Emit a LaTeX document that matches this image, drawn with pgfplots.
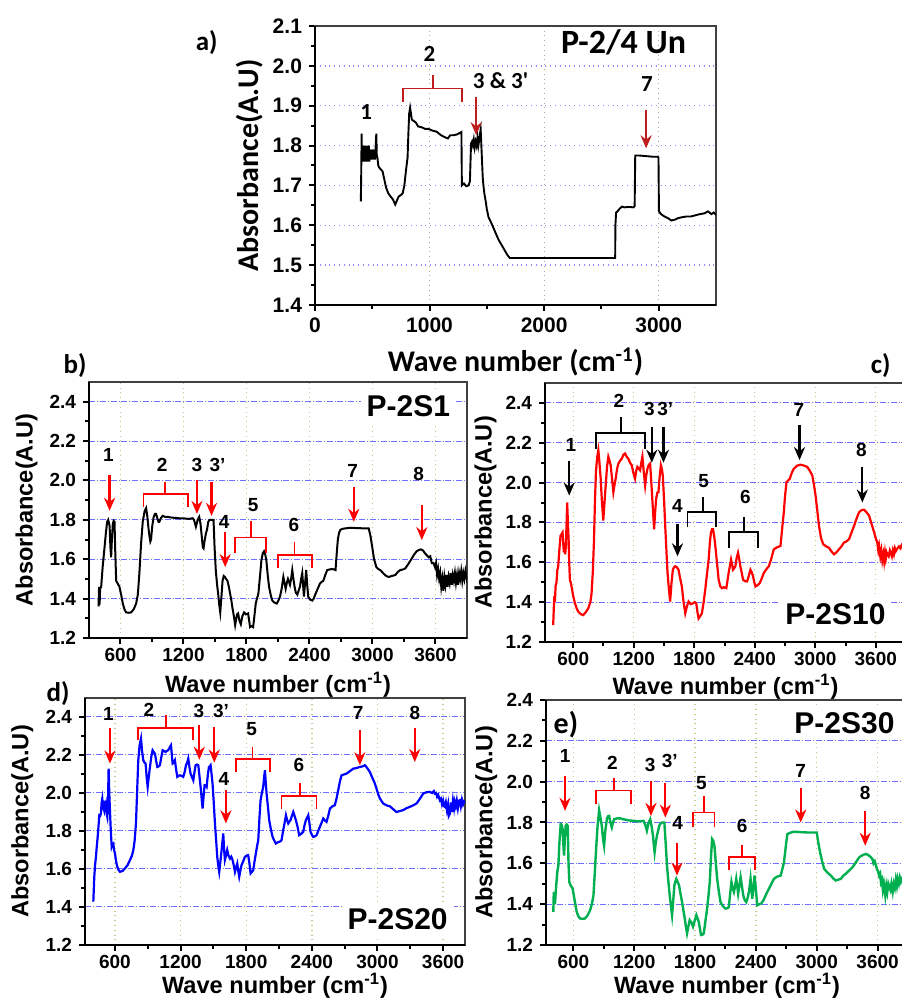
\documentclass[border=0pt]{standalone}
\usepackage{fontspec}
\setmainfont{Liberation Sans}
\newfontfamily\calib{Carlito}
\usepackage{pgfplots}
\pgfplotsset{compat=1.18}
\usetikzlibrary{arrows.meta}
\definecolor{annred}{RGB}{255,0,0}
\definecolor{darkann}{RGB}{190,30,30}
\definecolor{gridblue}{RGB}{110,110,255}
\definecolor{gridolive}{RGB}{200,200,140}
\definecolor{cgreen}{RGB}{0,176,80}
\newcommand{\lblfont}{\bfseries\fontsize{11.8}{13}\selectfont}
\newcommand{\albfont}{\calib\bfseries\fontsize{15}{17}\selectfont}
\pgfplotsset{
  base/.style={
    scale only axis, clip mode=individual,
    axis line style={line width=0.6pt, black!75},
    tick align=outside, xtick pos=left, ytick pos=left,
    major tick length=3pt, minor tick length=1.8pt,
    tick style={black, line width=1pt},
    grid=major,
    /pgf/number format/assume math mode=true,
    /pgf/number format/set thousands separator={},
    y tick label style={/pgf/number format/.cd, fixed, fixed zerofill, precision=1},
    tick label style={font=\bfseries\fontsize{9.5}{11}\selectfont},
    every axis y label/.style={at={(axis description cs:-0.165,0.5)}, rotate=90, anchor=center, font=\lblfont},
    every axis x label/.style={at={(axis description cs:0.5,-0.17)}, anchor=center, font=\lblfont},
    xlabel={Wave number (cm\textsuperscript{-1})},
    ylabel={Absorbance(A.U)},
  },
  lower/.style={base, xmin=300, xmax=3900, ymin=1.2, ymax=2.5,
    xtick={600,1200,1800,2400,3000,3600}, ytick={1.2,1.4,1.6,1.8,2.0,2.2,2.4},
    minor x tick num=1, minor y tick num=1,
    x tick label style={yshift=1.5pt},
    x grid style={dotted, gridolive, line width=0.7pt},
    y grid style={densely dash dot, gridblue, line width=0.5pt}},
}
\tikzset{
  arr/.style={line width=1.1pt, -{Stealth[length=6.5pt,width=5.5pt]}},
  brk/.style={line width=0.9pt},
  num/.style={font=\bfseries\fontsize{9.5}{10}\selectfont, text=black},
  plab/.style={font=\bfseries\fontsize{15}{16}\selectfont, anchor=east, fill=white, inner sep=3pt, text=black},
  let/.style={font=\calib\bfseries\fontsize{13.5}{14}\selectfont},
}
\newcommand{\thickaxes}{\draw[line width=1.4pt, black] (rel axis cs:0,1) -- (rel axis cs:0,0) -- (rel axis cs:1,0);}
\begin{document}
\begin{tikzpicture}
\useasboundingbox (0,0) rectangle (450.5pt,500.5pt);
% ---------------- panel a
\begin{axis}[base, at={(157.5pt,348pt)}, anchor=south west, width=200.5pt, height=139.5pt,
  xmin=0, xmax=3500, ymin=1.4, ymax=2.1,
  xtick={0,1000,2000,3000}, ytick={1.4,1.5,1.6,1.7,1.8,1.9,2.0,2.1},
  minor x tick num=1, minor y tick num=1,
  x grid style={dotted, gray!70, line width=0.6pt},
  y grid style={dotted, blue!45, line width=0.7pt},
  tick label style={font=\bfseries\fontsize{10.5}{12}\selectfont},
  every axis y label/.style={at={(axis description cs:-0.162,0.5)}, rotate=90, anchor=center, font=\albfont},
  every axis x label/.style={at={(axis description cs:0.5,-0.205)}, anchor=center, font=\albfont},
]
\addplot[black, line width=0.95pt] coordinates {
(400,1.66)(403,1.72)(407,1.83)(410,1.76)(414,1.79)(418,1.77)(422,1.80)(426,1.76)(430,1.79)(434,1.77)(438,1.80)(442,1.76)(446,1.79)(450,1.77)(454,1.80)(458,1.76)(462,1.79)(466,1.77)(470,1.80)(474,1.76)(478,1.79)(482,1.77)(486,1.79)(490,1.765)(494,1.79)(498,1.77)(502,1.79)(506,1.765)(510,1.785)(514,1.77)(518,1.79)(522,1.765)(526,1.78)(530,1.80)(535,1.83)(540,1.77)(545,1.77)(552,1.75)(560,1.745)(575,1.74)(590,1.735)(605,1.715)(620,1.695)(640,1.68)(660,1.672)(680,1.665)(700,1.652)(715,1.662)(730,1.672)(750,1.676)(765,1.68)(780,1.70)(795,1.74)(808,1.77)(815,1.83)(822,1.88)(830,1.895)(838,1.88)(845,1.865)(860,1.862)(880,1.858)(900,1.848)(930,1.846)(960,1.842)(990,1.842)(1020,1.838)(1060,1.835)(1100,1.826)(1140,1.82)(1160,1.818)(1180,1.826)(1210,1.826)(1240,1.828)(1265,1.832)(1278,1.834)(1282,1.70)(1300,1.705)(1320,1.698)(1340,1.70)(1352,1.71)(1362,1.805)(1370,1.81)(1378,1.80)(1386,1.815)(1394,1.795)(1402,1.81)(1410,1.80)(1418,1.82)(1426,1.80)(1434,1.815)(1440,1.83)(1446,1.84)(1452,1.80)(1458,1.76)(1464,1.72)(1470,1.70)(1478,1.68)(1490,1.66)(1500,1.64)(1515,1.62)(1540,1.605)(1570,1.585)(1600,1.565)(1640,1.545)(1680,1.525)(1700,1.518)(2620,1.518)(2622,1.60)(2628,1.632)(2640,1.635)(2660,1.642)(2680,1.647)(2700,1.645)(2740,1.646)(2780,1.645)(2790,1.648)(2795,1.775)(2830,1.775)(2870,1.774)(2910,1.773)(2950,1.772)(2990,1.772)(2998,1.77)(3002,1.635)(3020,1.628)(3050,1.622)(3080,1.618)(3110,1.612)(3140,1.614)(3170,1.618)(3200,1.620)(3240,1.622)(3280,1.622)(3320,1.625)(3360,1.628)(3400,1.63)(3430,1.635)(3460,1.628)(3480,1.632)(3500,1.626)
};
\thickaxes
\node[font=\calib\bfseries\fontsize{11.5}{12}\selectfont] at (axis cs:446,1.884) {1};
\node[font=\calib\bfseries\fontsize{11.5}{12}\selectfont] at (axis cs:999,2.03) {2};
\node[font=\calib\bfseries\fontsize{11.5}{12}\selectfont] at (axis cs:1620,1.964) {3 \& 3'};
\node[font=\calib\bfseries\fontsize{11.5}{12}\selectfont] at (axis cs:2898,1.955) {7};
\draw[darkann, line width=0.8pt] (axis cs:766,1.91) |- (axis cs:1282,1.943) -- (axis cs:1282,1.91);
\draw[darkann, line width=0.8pt] (axis cs:1028,1.943) -- (axis cs:1028,1.976);
\draw[darkann, arr] (axis cs:1407,1.922) -- (axis cs:1407,1.826);
\draw[darkann, arr] (axis cs:2890,1.889) -- (axis cs:2890,1.793);
\node[font=\calib\bfseries\fontsize{17}{18}\selectfont, anchor=east] at (axis cs:3300,2.06) {P-2/4 Un};
\node[font=\calib\bfseries\fontsize{13.5}{14}\selectfont] at (rel axis cs:-0.27,0.94) {a)};
\end{axis}
% ---------------- panel b
\begin{axis}[lower, at={(44.5pt,181.5pt)}, anchor=south west, width=189pt, height=128pt,
  every axis x label/.style={at={(axis description cs:0.5,-0.182)}, anchor=center, font=\lblfont}]
\addplot[black, line width=1pt] coordinates {
(391,1.36)(396,1.46)(401,1.37)(406,1.45)(416,1.46)(430,1.56)(448,1.66)(462,1.74)(473,1.79)(483,1.80)(496,1.77)(504,1.66)(511,1.61)(518,1.70)(527,1.78)(535,1.795)(543,1.79)(550,1.64)(559,1.49)(570,1.48)(590,1.46)(606,1.42)(622,1.375)(638,1.345)(654,1.33)(680,1.328)(701,1.33)(725,1.345)(749,1.375)(765,1.42)(780,1.53)(796,1.68)(812,1.79)(830,1.845)(844,1.86)(855,1.82)(866,1.76)(875,1.72)(884,1.69)(891,1.70)(903,1.77)(916,1.815)(928,1.83)(939,1.83)(950,1.81)(962,1.79)(970,1.79)(986,1.81)(1002,1.82)(1025,1.815)(1049,1.815)(1080,1.812)(1120,1.81)(1160,1.808)(1208,1.807)(1250,1.805)(1287,1.808)(1300,1.80)(1318,1.765)(1335,1.80)(1350,1.815)(1362,1.78)(1375,1.71)(1384,1.66)(1391,1.655)(1400,1.69)(1413,1.73)(1424,1.75)(1436,1.79)(1448,1.80)(1461,1.80)(1475,1.80)(1486,1.80)(1496,1.66)(1508,1.54)(1520,1.47)(1530,1.425)(1540,1.37)(1550,1.33)(1560,1.40)(1572,1.49)(1583,1.515)(1594,1.51)(1606,1.50)(1619,1.49)(1632,1.46)(1644,1.425)(1656,1.39)(1667,1.35)(1680,1.31)(1692,1.265)(1700,1.29)(1710,1.32)(1720,1.325)(1732,1.29)(1746,1.27)(1760,1.31)(1777,1.33)(1795,1.32)(1815,1.325)(1825,1.29)(1834,1.255)(1848,1.26)(1863,1.255)(1875,1.31)(1888,1.375)(1900,1.40)(1913,1.425)(1928,1.51)(1942,1.595)(1955,1.63)(1967,1.64)(1978,1.625)(1989,1.595)(2002,1.52)(2015,1.46)(2030,1.42)(2046,1.39)(2065,1.38)(2088,1.375)(2104,1.39)(2119,1.41)(2135,1.45)(2151,1.51)(2162,1.48)(2173,1.45)(2184,1.48)(2195,1.50)(2205,1.485)(2214,1.47)(2225,1.50)(2236,1.545)(2247,1.50)(2258,1.46)(2270,1.43)(2284,1.42)(2296,1.44)(2309,1.46)(2320,1.50)(2331,1.53)(2339,1.47)(2347,1.41)(2358,1.48)(2369,1.545)(2378,1.47)(2388,1.41)(2405,1.395)(2426,1.39)(2440,1.40)(2458,1.425)(2478,1.45)(2499,1.476)(2515,1.485)(2531,1.49)(2550,1.52)(2569,1.545)(2590,1.548)(2616,1.55)(2635,1.548)(2648,1.545)(2658,1.62)(2670,1.70)(2682,1.735)(2695,1.75)(2720,1.755)(2760,1.758)(2790,1.76)(2850,1.758)(2910,1.757)(2964,1.757)(2980,1.72)(2996,1.667)(3015,1.60)(3037,1.56)(3055,1.55)(3075,1.545)(3100,1.53)(3130,1.515)(3154,1.51)(3185,1.515)(3218,1.52)(3240,1.535)(3265,1.545)(3290,1.548)(3312,1.553)(3340,1.575)(3370,1.60)(3392,1.62)(3420,1.64)(3445,1.648)(3461,1.65)(3480,1.645)(3500,1.63)(3518,1.62)(3535,1.61)(3550,1.615)(3565,1.58)(3581,1.58)(3595,1.56)(3605,1.58)(3615,1.52)(3625,1.55)(3635,1.50)(3645,1.53)(3655,1.46)(3665,1.50)(3675,1.44)(3685,1.51)(3695,1.47)(3705,1.52)(3715,1.46)(3725,1.51)(3735,1.48)(3745,1.53)(3755,1.47)(3765,1.52)(3775,1.49)(3785,1.53)(3795,1.48)(3805,1.52)(3815,1.47)(3825,1.53)(3835,1.50)(3845,1.54)(3855,1.49)(3865,1.53)(3875,1.50)(3885,1.54)(3895,1.51)(3900,1.53)
};
\thickaxes
\node[plab] at (axis cs:3800,2.378) {P-2S1};
\node[let] at (rel axis cs:-0.037,1.066) {b)};
\begin{scope}[annred]
\node[num] at (axis cs:486,2.13) {1};
\draw[arr] (axis cs:496,2.027) -- (axis cs:496,1.846);
\node[num] at (axis cs:996,2.08) {2};
\draw[brk] (axis cs:820,1.866) |- (axis cs:1240,1.93) -- (axis cs:1240,1.866);
\draw[brk] (axis cs:1027,1.93) -- (axis cs:1027,1.99);
\node[num] at (axis cs:1328,2.08) {3};
\draw[arr] (axis cs:1328,2.0) -- (axis cs:1328,1.83);
\node[num] at (axis cs:1524,2.08) {3'};
\draw[arr] (axis cs:1467,1.99) -- (axis cs:1467,1.82);
\node[num] at (axis cs:1587,1.79) {4};
\draw[arr] (axis cs:1597,1.74) -- (axis cs:1597,1.56);
\node[num] at (axis cs:1863,1.875) {5};
\draw[brk] (axis cs:1692,1.63) |- (axis cs:1989,1.71) -- (axis cs:1989,1.63);
\draw[brk] (axis cs:1841,1.71) -- (axis cs:1841,1.795);
\node[num] at (axis cs:2252,1.776) {6};
\draw[brk] (axis cs:2103,1.553) |- (axis cs:2426,1.62) -- (axis cs:2426,1.553);
\draw[brk] (axis cs:2258,1.62) -- (axis cs:2258,1.685);
\node[num] at (axis cs:2812,2.05) {7};
\draw[arr] (axis cs:2822,1.968) -- (axis cs:2822,1.79);
\node[num] at (axis cs:3439,2.035) {8};
\draw[arr] (axis cs:3470,1.875) -- (axis cs:3470,1.697);
\end{scope}
\end{axis}
% ---------------- panel c
\begin{axis}[lower, at={(272.5pt,179.5pt)}, anchor=south west, width=180.5pt, height=129.5pt,
  xmin=320, every axis x label/.style={at={(axis description cs:0.5,-0.172)}, anchor=center, font=\lblfont}]
\addplot[red, line width=1.1pt] coordinates {
(401,1.285)(408,1.38)(413,1.43)(418,1.40)(425,1.48)(434,1.50)(442,1.56)(451,1.58)(462,1.66)(474,1.733)(482,1.74)(494,1.75)(500,1.70)(507,1.65)(514,1.70)(520,1.64)(527,1.68)(534,1.80)(540,1.90)(547,1.80)(554,1.715)(560,1.60)(567,1.51)(575,1.50)(583,1.479)(600,1.43)(617,1.394)(633,1.37)(650,1.352)(675,1.34)(699,1.335)(725,1.35)(749,1.369)(770,1.40)(782,1.445)(795,1.56)(806,1.716)(815,1.90)(825,2.053)(838,2.13)(849,2.163)(860,2.10)(872,2.02)(885,1.90)(898,1.81)(910,1.90)(922,1.986)(935,2.08)(948,2.13)(960,2.11)(971,2.087)(985,2.02)(998,1.952)(1010,1.99)(1021,2.02)(1035,2.07)(1048,2.096)(1065,2.11)(1081,2.12)(1098,2.14)(1114,2.146)(1130,2.13)(1147,2.12)(1163,2.10)(1180,2.087)(1196,2.05)(1213,2.02)(1225,2.06)(1236,2.079)(1250,2.07)(1263,2.062)(1275,2.10)(1286,2.13)(1300,2.05)(1313,1.986)(1325,2.04)(1336,2.07)(1350,2.09)(1362,2.096)(1372,2.02)(1382,1.935)(1392,1.85)(1402,1.766)(1412,1.85)(1422,1.918)(1434,1.95)(1445,1.952)(1457,2.03)(1469,2.087)(1478,2.07)(1488,2.037)(1500,1.92)(1512,1.783)(1524,1.66)(1535,1.547)(1548,1.47)(1561,1.403)(1575,1.50)(1588,1.563)(1600,1.575)(1611,1.58)(1628,1.575)(1644,1.563)(1660,1.52)(1677,1.479)(1694,1.40)(1711,1.344)(1728,1.38)(1744,1.403)(1765,1.39)(1787,1.394)(1805,1.40)(1820,1.394)(1832,1.35)(1843,1.318)(1860,1.33)(1876,1.344)(1893,1.40)(1909,1.462)(1926,1.54)(1943,1.614)(1955,1.70)(1966,1.75)(1976,1.766)(1986,1.766)(1998,1.73)(2009,1.682)(2025,1.60)(2042,1.513)(2058,1.48)(2075,1.47)(2095,1.475)(2118,1.47)(2130,1.51)(2141,1.547)(2153,1.58)(2165,1.614)(2175,1.59)(2185,1.563)(2196,1.57)(2208,1.58)(2220,1.62)(2234,1.648)(2245,1.62)(2257,1.58)(2270,1.55)(2284,1.513)(2304,1.505)(2324,1.504)(2340,1.53)(2357,1.563)(2370,1.55)(2383,1.53)(2395,1.50)(2407,1.479)(2428,1.485)(2450,1.496)(2470,1.52)(2490,1.547)(2515,1.565)(2539,1.58)(2565,1.62)(2589,1.665)(2620,1.675)(2655,1.682)(2672,1.77)(2688,1.851)(2700,1.93)(2715,2.003)(2730,2.01)(2748,2.02)(2768,2.05)(2788,2.07)(2820,2.085)(2854,2.09)(2890,2.085)(2920,2.079)(2945,2.06)(2970,2.037)(2987,1.99)(3003,1.935)(3020,1.86)(3037,1.783)(3058,1.72)(3080,1.69)(3108,1.68)(3136,1.673)(3160,1.655)(3186,1.64)(3210,1.65)(3235,1.665)(3260,1.68)(3285,1.699)(3310,1.705)(3335,1.716)(3360,1.75)(3385,1.783)(3410,1.82)(3434,1.851)(3460,1.862)(3484,1.864)(3510,1.85)(3534,1.834)(3560,1.79)(3584,1.75)(3600,1.72)(3615,1.70)(3625,1.66)(3633,1.682)(3645,1.63)(3655,1.66)(3665,1.61)(3675,1.64)(3683,1.606)(3692,1.65)(3700,1.62)(3708,1.65)(3716,1.64)(3728,1.63)(3740,1.66)(3749,1.648)(3760,1.63)(3770,1.66)(3780,1.64)(3790,1.67)(3799,1.656)(3815,1.67)(3830,1.68)(3845,1.67)(3859,1.69)(3875,1.695)(3890,1.70)(3900,1.705)
};
\thickaxes
\node[plab] at (axis cs:3760,1.34) {P-2S10};
\node[let] at (rel axis cs:0.93,1.066) {c)};
\begin{scope}[black]
\node[num] at (axis cs:577,2.19) {1};
\draw[arr] (axis cs:560,2.11) -- (axis cs:560,1.935);
\node[num] at (axis cs:1054,2.41) {2};
\draw[brk] (axis cs:825,2.17) |- (axis cs:1313,2.25) -- (axis cs:1313,2.17);
\draw[brk] (axis cs:1071,2.25) -- (axis cs:1071,2.33);
\node[num] at (axis cs:1356,2.37) {3};
\draw[arr] (axis cs:1379,2.28) -- (axis cs:1379,2.10);
\node[num] at (axis cs:1512,2.37) {3'};
\draw[arr] (axis cs:1495,2.28) -- (axis cs:1495,2.10);
\node[num] at (axis cs:1634,1.885) {4};
\draw[arr] (axis cs:1634,1.79) -- (axis cs:1634,1.63);
\node[num] at (axis cs:1893,2.01) {5};
\draw[brk] (axis cs:1734,1.775) |- (axis cs:2019,1.854) -- (axis cs:2019,1.775);
\draw[brk] (axis cs:1883,1.854) -- (axis cs:1883,1.926);
\node[num] at (axis cs:2307,1.926) {6};
\draw[brk] (axis cs:2148,1.673) |- (axis cs:2433,1.754) -- (axis cs:2433,1.673);
\draw[brk] (axis cs:2291,1.754) -- (axis cs:2291,1.825);
\node[num] at (axis cs:2838,2.366) {7};
\draw[arr] (axis cs:2844,2.29) -- (axis cs:2844,2.113);
\node[num] at (axis cs:3457,2.163) {8};
\draw[arr] (axis cs:3467,2.08) -- (axis cs:3467,1.90);
\end{scope}
\end{axis}
% ---------------- panel d
\begin{axis}[lower, at={(42.5pt,28pt)}, anchor=south west, width=190pt, height=123.5pt,
  xmin=326, xmax=3800, every axis x label/.style={at={(axis description cs:0.5,-0.166)}, anchor=center, font=\lblfont}]
\addplot[blue, line width=1.1pt] coordinates {
(402,1.428)(407,1.50)(411,1.56)(418,1.62)(426,1.664)(434,1.72)(442,1.77)(450,1.83)(457,1.883)(465,1.88)(472,1.892)(478,1.95)(484,1.97)(490,1.93)(500,1.91)(506,1.96)(512,1.90)(518,1.927)(524,1.89)(530,1.874)(536,1.95)(542,2.128)(548,2.00)(554,1.91)(562,1.80)(570,1.717)(578,1.73)(585,1.734)(592,1.70)(600,1.682)(610,1.64)(621,1.612)(633,1.595)(646,1.585)(670,1.59)(691,1.603)(715,1.62)(737,1.647)(755,1.67)(768,1.70)(780,1.75)(792,1.84)(802,2.00)(813,2.172)(825,2.25)(838,2.286)(848,2.22)(859,2.172)(870,2.16)(880,2.155)(890,2.08)(899,2.032)(910,2.09)(920,2.137)(932,2.19)(944,2.225)(955,2.215)(966,2.207)(976,2.17)(987,2.137)(1000,2.14)(1011,2.146)(1024,2.19)(1036,2.225)(1050,2.22)(1063,2.216)(1075,2.222)(1087,2.225)(1100,2.24)(1112,2.251)(1120,2.20)(1127,2.155)(1138,2.16)(1148,2.172)(1160,2.12)(1170,2.085)(1182,2.09)(1194,2.093)(1210,2.09)(1224,2.085)(1237,2.11)(1249,2.146)(1260,2.16)(1270,2.181)(1280,2.14)(1291,2.102)(1303,2.085)(1316,2.067)(1327,2.11)(1337,2.146)(1350,2.15)(1362,2.146)(1374,2.08)(1386,2.015)(1394,1.96)(1401,1.918)(1410,1.98)(1419,2.041)(1428,2.04)(1438,2.032)(1448,2.09)(1459,2.137)(1467,2.14)(1474,2.146)(1483,2.10)(1492,2.05)(1503,1.95)(1514,1.84)(1525,1.75)(1535,1.664)(1544,1.62)(1553,1.585)(1564,1.64)(1575,1.70)(1582,1.74)(1590,1.787)(1598,1.70)(1605,1.647)(1615,1.67)(1626,1.70)(1638,1.67)(1651,1.655)(1663,1.665)(1675,1.647)(1686,1.62)(1697,1.585)(1708,1.61)(1718,1.629)(1727,1.59)(1736,1.559)(1746,1.59)(1757,1.62)(1772,1.64)(1788,1.664)(1803,1.67)(1818,1.673)(1829,1.63)(1840,1.577)(1852,1.585)(1864,1.594)(1876,1.64)(1888,1.682)(1899,1.72)(1910,1.752)(1920,1.86)(1931,1.962)(1943,2.00)(1955,2.032)(1963,2.08)(1971,2.12)(1978,2.06)(1986,1.997)(1998,1.93)(2010,1.857)(2025,1.81)(2041,1.769)(2056,1.75)(2071,1.734)(2087,1.74)(2102,1.743)(2113,1.746)(2123,1.752)(2134,1.79)(2144,1.822)(2153,1.85)(2163,1.883)(2173,1.86)(2184,1.84)(2195,1.85)(2205,1.857)(2218,1.88)(2230,1.90)(2242,1.88)(2254,1.857)(2270,1.82)(2284,1.778)(2302,1.785)(2321,1.796)(2333,1.83)(2345,1.857)(2356,1.87)(2367,1.883)(2378,1.84)(2388,1.796)(2400,1.78)(2412,1.769)(2428,1.772)(2443,1.778)(2458,1.80)(2473,1.822)(2490,1.845)(2504,1.866)(2520,1.855)(2534,1.848)(2550,1.88)(2565,1.918)(2588,1.93)(2610,1.936)(2625,1.97)(2641,2.015)(2656,2.06)(2671,2.093)(2695,2.098)(2717,2.102)(2748,2.115)(2778,2.128)(2810,2.132)(2839,2.137)(2862,2.14)(2885,2.146)(2908,2.13)(2930,2.111)(2953,2.08)(2976,2.05)(2995,2.015)(3015,1.98)(3034,1.96)(3052,1.945)(3082,1.935)(3113,1.93)(3143,1.915)(3174,1.90)(3204,1.905)(3235,1.91)(3265,1.92)(3296,1.927)(3326,1.935)(3357,1.945)(3388,1.97)(3418,1.997)(3448,2.004)(3478,2.006)(3500,2.00)(3515,2.01)(3524,1.997)(3535,2.00)(3545,1.98)(3555,1.99)(3570,1.962)(3580,1.97)(3590,1.94)(3600,1.96)(3610,1.93)(3616,1.927)(3625,1.95)(3635,1.91)(3645,1.94)(3652,1.88)(3662,1.892)(3672,1.95)(3680,1.90)(3690,1.96)(3700,1.92)(3707,1.953)(3716,1.93)(3725,1.96)(3735,1.92)(3745,1.96)(3753,1.962)(3762,1.93)(3772,1.965)(3782,1.94)(3792,1.955)(3800,1.95)
};
\thickaxes
\node[plab] at (axis cs:3700,1.337) {P-2S20};
\node[let] at (rel axis cs:-0.071,1.02) {d)};
\begin{scope}[annred]
\node[num] at (axis cs:539,2.418) {1};
\draw[arr] (axis cs:554,2.34) -- (axis cs:554,2.155);
\node[num] at (axis cs:911,2.44) {2};
\draw[brk] (axis cs:807,2.28) |- (axis cs:1316,2.344) -- (axis cs:1316,2.28);
\draw[brk] (axis cs:1066,2.344) -- (axis cs:1066,2.41);
\node[num] at (axis cs:1368,2.43) {3};
\draw[arr] (axis cs:1371,2.36) -- (axis cs:1371,2.175);
\node[num] at (axis cs:1569,2.43) {3'};
\draw[arr] (axis cs:1508,2.345) -- (axis cs:1508,2.16);
\node[num] at (axis cs:1596,2.076) {4};
\draw[arr] (axis cs:1614,2.015) -- (axis cs:1614,1.84);
\node[num] at (axis cs:1849,2.335) {5};
\draw[brk] (axis cs:1706,2.11) |- (axis cs:2016,2.178) -- (axis cs:2016,2.11);
\draw[brk] (axis cs:1858,2.178) -- (axis cs:1858,2.24);
\node[num] at (axis cs:2281,2.146) {6};
\draw[brk] (axis cs:2123,1.918) |- (axis cs:2443,1.985) -- (axis cs:2443,1.918);
\draw[brk] (axis cs:2288,1.985) -- (axis cs:2288,2.05);
\node[num] at (axis cs:2824,2.42) {7};
\draw[arr] (axis cs:2839,2.33) -- (axis cs:2839,2.146);
\node[num] at (axis cs:3341,2.42) {8};
\draw[arr] (axis cs:3341,2.34) -- (axis cs:3341,2.163);
\end{scope}
\end{axis}
% ---------------- panel e
\begin{axis}[lower, at={(273pt,28pt)}, anchor=south west, width=181pt, height=122.5pt,
  xmin=330, ymax=2.4, every axis x label/.style={at={(axis description cs:0.5,-0.167)}, anchor=center, font=\lblfont}]
\addplot[cgreen, line width=1.2pt] coordinates {
(402,1.362)(407,1.46)(412,1.43)(418,1.40)(425,1.45)(432,1.50)(442,1.56)(452,1.59)(462,1.70)(475,1.792)(483,1.79)(494,1.768)(500,1.70)(508,1.638)(516,1.72)(524,1.784)(534,1.79)(544,1.784)(552,1.60)(560,1.508)(575,1.49)(593,1.476)(612,1.42)(633,1.362)(650,1.34)(666,1.33)(690,1.328)(715,1.33)(740,1.345)(765,1.37)(782,1.40)(798,1.443)(812,1.56)(824,1.67)(838,1.78)(854,1.86)(865,1.83)(880,1.784)(892,1.72)(903,1.686)(915,1.76)(930,1.816)(940,1.83)(953,1.832)(965,1.80)(979,1.776)(990,1.80)(1002,1.816)(1030,1.82)(1062,1.82)(1100,1.815)(1150,1.81)(1193,1.808)(1240,1.805)(1292,1.808)(1308,1.79)(1325,1.76)(1342,1.80)(1358,1.816)(1372,1.78)(1385,1.735)(1393,1.69)(1401,1.654)(1412,1.70)(1424,1.735)(1436,1.76)(1447,1.784)(1460,1.795)(1474,1.80)(1486,1.80)(1497,1.80)(1510,1.70)(1523,1.59)(1537,1.51)(1550,1.443)(1562,1.39)(1573,1.346)(1585,1.42)(1596,1.492)(1605,1.51)(1615,1.524)(1628,1.51)(1642,1.492)(1657,1.45)(1672,1.41)(1685,1.37)(1698,1.33)(1710,1.29)(1721,1.257)(1734,1.29)(1747,1.322)(1764,1.31)(1780,1.29)(1797,1.32)(1813,1.346)(1825,1.33)(1836,1.314)(1848,1.28)(1859,1.249)(1872,1.25)(1886,1.257)(1903,1.32)(1919,1.378)(1932,1.44)(1945,1.508)(1956,1.62)(1968,1.719)(1980,1.71)(1991,1.686)(2005,1.60)(2018,1.524)(2035,1.46)(2051,1.41)(2075,1.39)(2100,1.378)(2118,1.38)(2133,1.386)(2146,1.45)(2159,1.508)(2170,1.48)(2183,1.46)(2195,1.49)(2206,1.524)(2215,1.49)(2225,1.451)(2237,1.49)(2249,1.532)(2262,1.49)(2275,1.443)(2290,1.42)(2305,1.41)(2318,1.43)(2331,1.46)(2339,1.49)(2347,1.524)(2355,1.48)(2364,1.427)(2375,1.48)(2387,1.54)(2400,1.47)(2413,1.395)(2433,1.40)(2453,1.403)(2475,1.42)(2496,1.443)(2512,1.46)(2529,1.476)(2553,1.50)(2578,1.524)(2610,1.535)(2644,1.54)(2660,1.57)(2677,1.605)(2694,1.68)(2710,1.743)(2740,1.75)(2776,1.755)(2840,1.753)(2908,1.751)(2960,1.751)(3000,1.751)(3016,1.70)(3033,1.654)(3053,1.61)(3073,1.573)(3105,1.555)(3139,1.54)(3165,1.525)(3188,1.516)(3213,1.52)(3238,1.524)(3262,1.54)(3287,1.549)(3320,1.565)(3353,1.581)(3386,1.605)(3419,1.63)(3452,1.64)(3485,1.646)(3510,1.64)(3534,1.63)(3550,1.62)(3560,1.60)(3572,1.61)(3584,1.59)(3595,1.57)(3605,1.56)(3615,1.54)(3625,1.55)(3633,1.508)(3642,1.52)(3652,1.47)(3662,1.50)(3676,1.443)(3686,1.49)(3696,1.46)(3706,1.50)(3716,1.484)(3726,1.47)(3736,1.50)(3749,1.46)(3760,1.50)(3770,1.48)(3780,1.52)(3790,1.49)(3798,1.524)(3810,1.50)(3820,1.53)(3830,1.51)(3841,1.524)(3855,1.51)(3870,1.53)(3885,1.52)(3900,1.53)
};
\thickaxes
\node[plab] at (axis cs:3830,2.287) {P-2S30};
\node[font=\calib\bfseries\fontsize{15}{16}\selectfont] at (rel axis cs:0.055,0.898) {e)};
\begin{scope}[annred]
\node[num] at (axis cs:518,2.128) {1};
\draw[arr] (axis cs:518,2.027) -- (axis cs:518,1.857);
\node[num] at (axis cs:986,2.092) {2};
\draw[brk] (axis cs:824,1.89) |- (axis cs:1167,1.957) -- (axis cs:1167,1.89);
\draw[brk] (axis cs:1002,1.957) -- (axis cs:1002,2.02);
\node[num] at (axis cs:1358,2.084) {3};
\draw[arr] (axis cs:1365,2.003) -- (axis cs:1365,1.832);
\node[num] at (axis cs:1550,2.10) {3'};
\draw[arr] (axis cs:1507,1.995) -- (axis cs:1507,1.824);
\node[num] at (axis cs:1629,1.80) {4};
\draw[arr] (axis cs:1622,1.70) -- (axis cs:1622,1.54);
\node[num] at (axis cs:1863,1.995) {5};
\draw[brk] (axis cs:1777,1.776) |- (axis cs:1991,1.849) -- (axis cs:1991,1.776);
\draw[brk] (axis cs:1886,1.849) -- (axis cs:1886,1.93);
\node[num] at (axis cs:2265,1.784) {6};
\draw[brk] (axis cs:2133,1.565) |- (axis cs:2390,1.63) -- (axis cs:2390,1.565);
\draw[brk] (axis cs:2266,1.63) -- (axis cs:2266,1.691);
\node[num] at (axis cs:2842,2.051) {7};
\draw[arr] (axis cs:2842,1.97) -- (axis cs:2842,1.80);
\node[num] at (axis cs:3478,1.943) {8};
\draw[arr] (axis cs:3478,1.857) -- (axis cs:3478,1.686);
\end{scope}
\end{axis}
\end{tikzpicture}
\end{document}
